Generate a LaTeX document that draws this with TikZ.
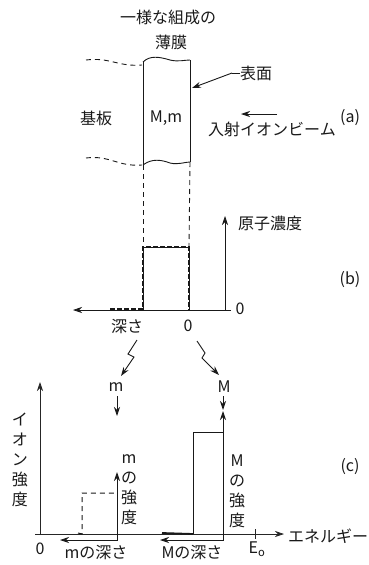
\documentclass[tikz,border=0pt]{standalone}
\usepackage{fontspec}
\setmainfont{Noto Sans CJK JP}
\usetikzlibrary{arrows.meta}
\tikzset{
  ln/.style={line width=0.9pt, draw=black!90},
  arr/.style={ln, -{Stealth[length=9pt,width=6pt]}},
  thinaxis/.style={line width=0.7pt, draw=black!85},
  dsh/.style={ln, dash pattern=on 5pt off 4pt},
  thickdsh/.style={line width=2.2pt, draw=black!90, dash pattern=on 5pt off 2pt},
  lbl/.style={font=\fontsize{16}{20}\selectfont, inner sep=0pt, text=black!90},
  vlbl/.style={lbl, align=center, font=\fontsize{16}{20}\selectfont},
}
\begin{document}
\begin{tikzpicture}[x=1pt,y=-1pt]
\useasboundingbox (0,0) rectangle (369,565);
% ---------- panel (a) ----------
\node[lbl] (title1) at (168,17) {一様な組成の};
\node[lbl] (title2) at (171,42) {薄膜};
\coordinate (ftl) at (143,62);
\coordinate (ftr) at (190,60);
\coordinate (fbl) at (143,165);
\coordinate (fbr) at (190,162);
\draw[ln] (ftl) .. controls (150,55) and (160,57) .. (170,60) .. controls (178,62) and (185,60) .. (ftr);
\draw[ln] (fbl) .. controls (152,158) and (162,160) .. (170,163) .. controls (178,165) and (185,162) .. (fbr);
\draw[ln] (ftl) -- (fbl);
\draw[ln] (ftr) -- (fbr);
\coordinate (wl1) at (86,60);
\coordinate (wl2) at (86,158);
\draw[dsh] (wl1) .. controls (110,57) and (118,67) .. (142,65);
\draw[dsh] (wl2) .. controls (110,155) and (118,167) .. (142,165);
\node[lbl] (kiban) at (96,118) {基板};
\node[lbl] (Mm) at (166,118) {M,m};
\node[lbl,anchor=west] (hyomen) at (240,73) {表面};
\coordinate (hy0) at (232,73);
\coordinate (hyA) at (192,88);
\draw[ln] (hyomen.west) -- (hy0);
\draw[arr] (hy0) -- (hyA);
\coordinate (beamS) at (277,114);
\coordinate (beamE) at (241,114);
\draw[arr] (beamS) -- (beamE);
\node[lbl] (beam) at (272,129) {入射イオンビーム};
\node[lbl] (pa) at (350,118) {(a)};
% dashed projection lines
\coordinate (pl) at (143,247);
\coordinate (pr) at (189,247);
\draw[dsh] (fbl) -- (pl);
\draw[dsh] (fbr) -- (pr);
% ---------- panel (b) ----------
\coordinate (bO) at (225,310);
\coordinate (bXend) at (73,310);
\coordinate (bYend) at (225,216);
\coordinate (bX0) at (231,310);
\draw[arr, line width=0.7pt] (bX0) -- (bXend);
\draw[arr, line width=0.7pt] (bO) -- (bYend);
\node[lbl,anchor=west] (genshi) at (238,223) {原子濃度};
\node[lbl] (b0) at (240,309) {0};
\node[lbl] (pb) at (350,280) {(b)};
\coordinate (rbl) at (143,310);
\coordinate (rbr) at (189,310);
\coordinate (rbx) at (110,309);
\draw[ln] (rbl) -- (pl) -- (pr) -- (rbr);
\draw[thickdsh] (rbx) -- (143,309) -- (pl) -- (pr) -- (rbr);
\node[lbl] (fuka) at (127,327) {深さ};
\node[lbl] (zero2) at (188,326) {0};
% zigzag arrows
\coordinate (zl0) at (137,340);
\coordinate (zl1) at (128,354);
\coordinate (zl2) at (134,357);
\coordinate (zl3) at (121,376);
\draw[arr] (zl0) -- (zl1) -- (zl2) -- (zl3);
\coordinate (zr0) at (197,341);
\coordinate (zr1) at (205,353);
\coordinate (zr2) at (202,358);
\coordinate (zr3) at (219,375);
\draw[arr] (zr0) -- (zr1) -- (zr2) -- (zr3);
\node[lbl] (mlab) at (116,387) {m};
\node[lbl] (Mlab) at (224,387) {M};
\coordinate (ma0) at (117,396);
\coordinate (ma1) at (117,416);
\draw[arr] (ma0) -- (ma1);
\coordinate (Ma0) at (223,396);
\coordinate (Ma1) at (223,410);
\draw[arr] (Ma0) -- (Ma1);
% ---------- panel (c) ----------
\coordinate (cO) at (40,535);
\coordinate (cYend) at (40,382);
\coordinate (cX0) at (35,534);
\coordinate (cXend) at (284,534);
\draw[thinaxis, -{Stealth[length=9pt,width=6pt]}] (cO) -- (cYend);
\draw[thinaxis, -{Stealth[length=9pt,width=6pt]}] (cX0) -- (cXend);
\node[lbl] (c0) at (40,549) {0};
\node[vlbl] (ionI) at (20,460) {イ\\オ\\ン\\強\\度};
\node[lbl,anchor=west] (energy) at (288,536) {エネルギー};
\coordinate (e0a) at (255,529);
\coordinate (e0b) at (255,539);
\draw[thinaxis] (e0a) -- (e0b);
\node[lbl] (E0) at (257,549) {E\textsubscript{o}};
\node[lbl] (pc) at (350,467) {(c)};
% m box
\coordinate (mbl) at (82,534);
\coordinate (mtl) at (82,493);
\coordinate (mtr) at (117,493);
\coordinate (mbr) at (117,534);
\coordinate (mtop) at (117,472);
\draw[dsh, line width=1pt] (78,533) -- (mbl) -- (mtl) -- (mtr);
\draw[arr] (mbr) -- (mtop);
\coordinate (md1) at (117,540);
\coordinate (md2) at (60,540);
\draw[arr] (mbr) -- (md1) -- (md2);
\node[vlbl] (mI) at (129,490) {m\\の\\強\\度};
\node[lbl] (mdepth) at (96,553) {mの深さ};
% M box
\coordinate (Mbl) at (193,534);
\coordinate (Mtl) at (193,432);
\coordinate (Mtr) at (223,432);
\coordinate (Mbr) at (223,534);
\coordinate (Mtop) at (223,411);
\draw[ln] (Mbl) -- (Mtl) -- (Mtr);
\draw[arr] (Mbr) -- (Mtop);
\draw[line width=1.8pt, draw=black!90] (162,533) -- (Mbl);
\coordinate (Md1) at (223,540);
\coordinate (Md2) at (160,540);
\draw[arr] (Mbr) -- (Md1) -- (Md2);
\node[vlbl] (MI) at (237,491) {M\\の\\強\\度};
\node[lbl] (Mdepth) at (192,553) {Mの深さ};
\end{tikzpicture}
\end{document}
